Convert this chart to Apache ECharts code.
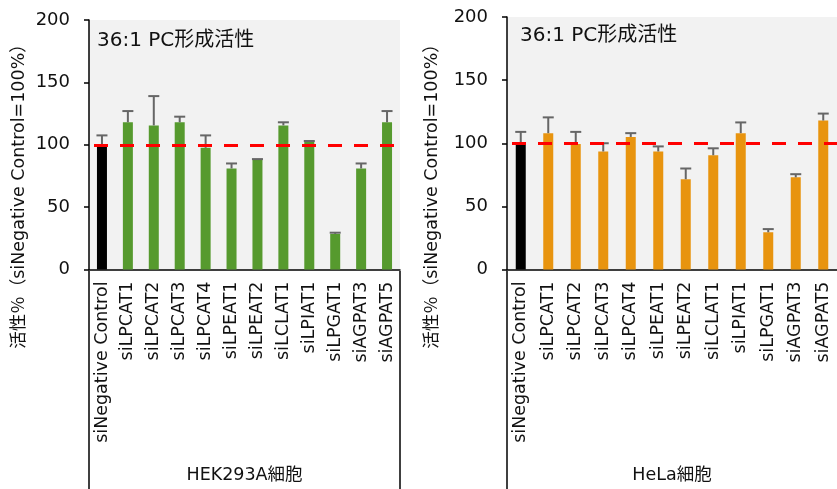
<!DOCTYPE html>
<html>
<head>
<meta charset="utf-8">
<script src="https://cdn.jsdelivr.net/npm/echarts@6/dist/echarts.min.js"></script>
<style>
html,body{margin:0;padding:0;background:#fff;}
#chart{width:837px;height:489px;}
</style>
</head>
<body>
<div id="chart"></div>
<script>
// ---- data ----
const categories = ['siNegative Control','siLPCAT1','siLPCAT2','siLPCAT3','siLPCAT4','siLPEAT1','siLPEAT2','siLCLAT1','siLPIAT1','siLPGAT1','siAGPAT3','siAGPAT5'];
const hekValues    = [100, 118, 115.5, 118, 97.5, 81, 88, 115.5, 102.5, 28.5, 81, 118];
const hekErrorTop  = [107.5, 127, 139, 122.5, 107.5, 85, 88.5, 118, 103, 29.5, 85, 127];
const helaValues   = [100, 108, 99.5, 93.5, 105, 93.5, 71.5, 90.5, 108, 29.5, 73, 118];
const helaErrorTop = [109, 120.5, 109, 100, 108, 97.5, 80, 96, 116.5, 32, 75.5, 123.5];
const referenceValue = 100;
const yMin = 0, yMax = 200, yInterval = 50;
const panelTitle = '36:1 PC形成活性';
const yAxisTitle = '活性％（siNegative Control=100%）';
const cellNames = ['HEK293A細胞', 'HeLa細胞'];

// ---- layout / style ----
const FONT = '"DejaVu Sans", "Noto Sans CJK JP", sans-serif';
const panels = [
  {left: 89, top: 20, width: 311, height: 251, color: '#569A2E', values: hekValues, err: hekErrorTop, titleX: 97, titleY: 31, yTitleX: 19},
  {left: 507, top: 17, width: 334, height: 254, color: '#E8940F', values: helaValues, err: helaErrorTop, titleX: 520, titleY: 26, yTitleX: 432}
];

const chart = echarts.init(document.getElementById('chart'), null, {renderer: 'canvas'});

const grid = [], xAxis = [], yAxis = [], series = [], title = [], graphic = [];
panels.forEach((p, i) => {
  grid.push({left: p.left, top: p.top, width: p.width, height: p.height, show: true,
    backgroundColor: '#F2F2F2', borderWidth: 0, containLabel: false});
  xAxis.push({type: 'category', gridIndex: i, data: categories,
    axisLine: {show: true, lineStyle: {color: '#000', width: 1.5}},
    axisTick: {show: false},
    axisLabel: {rotate: 90, interval: 0, margin: 12, fontSize: 17.5, color: '#111', fontFamily: FONT},
    name: cellNames[i], nameLocation: 'middle', nameGap: 197,
    nameTextStyle: {fontSize: 17.5, color: '#111', fontFamily: FONT}
  });
  yAxis.push({type: 'value', gridIndex: i, min: yMin, max: yMax, interval: yInterval,
    axisLine: {show: true, lineStyle: {color: '#000', width: 1.5}},
    axisTick: {show: true, length: 5, lineStyle: {color: '#000', width: 1.5}},
    splitLine: {show: false},
    axisLabel: {fontSize: 18, color: '#111', margin: 19, fontFamily: FONT}
  });
  series.push({
    type: 'bar', xAxisIndex: i, yAxisIndex: i, barWidth: 10,
    data: p.values.map((v, k) => ({value: v, itemStyle: {color: k === 0 ? '#000000' : p.color}})),
    z: 2,
    markLine: {
      silent: true, symbol: 'none', z: 5,
      label: {show: false},
      lineStyle: {color: '#FF0000', width: 3, type: [14, 12], dashOffset: -5},
      data: [{yAxis: referenceValue}]
    }
  });
  series.push({
    type: 'custom', xAxisIndex: i, yAxisIndex: i, z: 3,
    data: p.values.map((v, k) => [k, v, p.err[k]]),
    renderItem: function (params, api) {
      const idx = api.value(0);
      const lo = api.coord([idx, api.value(1)]);
      const hi = api.coord([idx, api.value(2)]);
      const st = {stroke: '#666666', lineWidth: 2};
      return {type: 'group', children: [
        {type: 'line', shape: {x1: lo[0], y1: lo[1], x2: hi[0], y2: hi[1]}, style: st},
        {type: 'line', shape: {x1: hi[0] - 5.5, y1: hi[1], x2: hi[0] + 5.5, y2: hi[1]}, style: st}
      ]};
    }
  });
  title.push({text: panelTitle, left: p.titleX, top: p.titleY, padding: 0,
    textStyle: {fontSize: 20, fontWeight: 'normal', color: '#111', fontFamily: FONT}});
  graphic.push({type: 'text', x: p.yTitleX, y: 192, rotation: Math.PI / 2,
    style: {text: yAxisTitle, fontSize: 17.5, fill: '#111', fontFamily: FONT, textAlign: 'center', textVerticalAlign: 'middle'}});
  // box lines below plot area
  const bottomY = p.top + p.height;
  graphic.push({type: 'line', shape: {x1: p.left, y1: bottomY, x2: p.left, y2: 489},
    style: {stroke: '#000', lineWidth: 1.5}});
  graphic.push({type: 'line', shape: {x1: p.left + p.width, y1: bottomY, x2: p.left + p.width, y2: 489},
    style: {stroke: '#000', lineWidth: 1.5}});
});

chart.setOption({animation: false, grid, xAxis, yAxis, series, title, graphic});
</script>
</body>
</html>
